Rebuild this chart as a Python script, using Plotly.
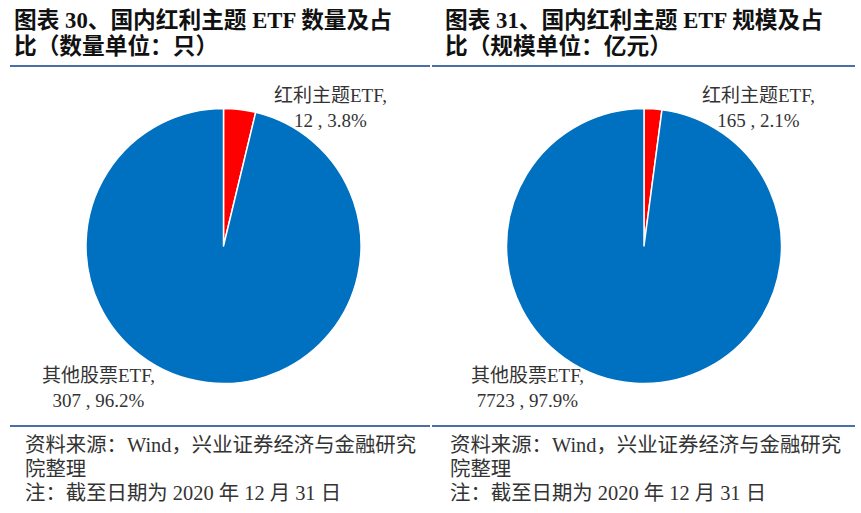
import plotly.graph_objects as go

# Data
categories = ["红利主题ETF", "其他股票ETF"]
count_values = [12, 307]
count_pct = ["3.8%", "96.2%"]
scale_values = [165, 7723]
scale_pct = ["2.1%", "97.9%"]
colors = ["#FF0000", "#0070C0"]

titles = [
    ["图表 30、国内红利主题 ETF 数量及占", "比（数量单位：只）"],
    ["图表 31、国内红利主题 ETF 规模及占", "比（规模单位：亿元）"],
]
source_lines = ["资料来源：Wind，兴业证券经济与金融研究", "院整理", "注：截至日期为 2020 年 12 月 31 日"]

W, H = 861, 513
FONT = "Liberation Serif, Noto Sans CJK SC, serif"

fig = go.Figure()

centers = [223.5, 644]
r = 137.5
cy = 246
datasets = [(count_values, count_pct), (scale_values, scale_pct)]
for cx, (vals, pcts) in zip(centers, datasets):
    fig.add_trace(go.Pie(
        labels=categories, values=vals, sort=False, direction="clockwise", rotation=0,
        marker=dict(colors=colors, line=dict(color="white", width=1.5)),
        textinfo="none", hoverinfo="label+value+percent", showlegend=False,
        domain=dict(x=[(cx - r) / W, (cx + r) / W], y=[(H - cy - r) / H, (H - cy + r) / H]),
    ))

annotations = []
label_pos = [
    [(330, 108), (98, 388)],
    [(758, 108), (527, 388)],
]
for (vals, pcts), poss in zip(datasets, label_pos):
    for cat, v, p, (x, y) in zip(categories, vals, pcts, poss):
        annotations.append(dict(
            x=x / W, y=1 - y / H, xref="paper", yref="paper", showarrow=False,
            xanchor="center", yanchor="middle",
            text=f"{cat},<br>{v} , {p}", align="center",
            font=dict(family=FONT, size=19, color="#333333"),
        ))

title_x = [12, 443]
title_y = [20, 46]
src_x = [23, 448]
src_y = [445, 469, 493]
for i, lines in enumerate(titles):
    for line, y in zip(lines, title_y):
        annotations.append(dict(
            x=title_x[i] / W, y=1 - y / H, xref="paper", yref="paper", showarrow=False,
            xanchor="left", yanchor="middle", align="left", text=f"<b>{line}</b>",
            font=dict(family="Liberation Serif, Noto Sans CJK SC", size=22.7, color="#111111"),
        ))
    for line, y in zip(source_lines, src_y):
        annotations.append(dict(
            x=src_x[i] / W, y=1 - y / H, xref="paper", yref="paper", showarrow=False,
            xanchor="left", yanchor="middle", align="left", text=line,
            font=dict(family=FONT, size=20.4, color="#333333"),
        ))

shapes = []
for x0, x1 in [(10, 430), (432, 855)]:
    for y in (66, 426):
        shapes.append(dict(type="line", xref="paper", yref="paper",
                           x0=x0 / W, x1=x1 / W, y0=1 - y / H, y1=1 - y / H,
                           line=dict(color="#4A6EA8", width=2)))

fig.update_layout(
    width=W, height=H, margin=dict(l=0, r=0, t=0, b=0),
    paper_bgcolor="white", plot_bgcolor="white",
    annotations=annotations, shapes=shapes,
)

fig.write_html("out.html", config={"displayModeBar": False},
               post_script="document.body.style.margin='0px';")
